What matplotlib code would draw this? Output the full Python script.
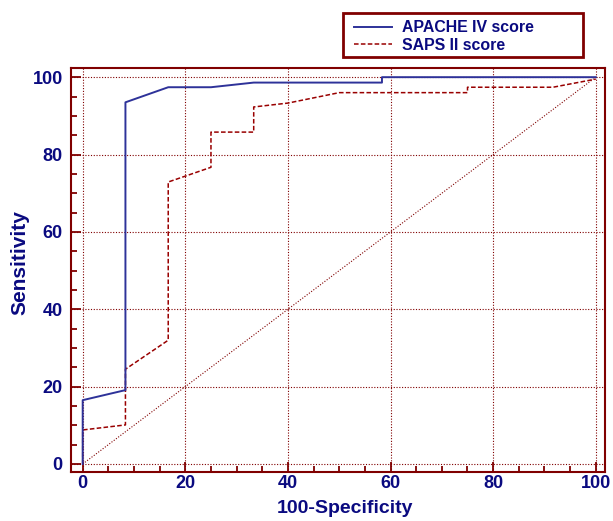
import matplotlib
matplotlib.use("Agg")
import matplotlib.pyplot as plt
from matplotlib.ticker import MultipleLocator
from matplotlib.patches import Rectangle

# ROC data (100-Specificity, Sensitivity)
apache_x = [0, 0, 8.33, 8.33, 16.67, 25, 33.33, 58.33, 58.33, 100]
apache_y = [0, 16.5, 19.1, 93.5, 97.4, 97.4, 98.6, 98.6, 100, 100]
saps_x = [0, 0, 8.33, 8.33, 16.67, 16.67, 25, 25, 33.33, 33.33, 40, 50, 75, 75, 91.67, 100]
saps_y = [0, 8.8, 10.1, 24.5, 32.0, 72.9, 76.7, 85.8, 85.8, 92.3, 93.3, 96.0, 96.0, 97.4, 97.4, 99.5]
series_labels = ["APACHE IV score", "SAPS II score"]
x_ticks = [0, 20, 40, 60, 80, 100]
y_ticks = [0, 20, 40, 60, 80, 100]
diag = [0, 100]

plt.rcParams['font.family'] = ['Liberation Sans', 'DejaVu Sans']
plt.rcParams['font.weight'] = 'bold'

RED = '#800000'
NAVY = '#0a0a80'
BLUE = '#2e3299'

W, H = 613, 521
fig = plt.figure(figsize=(W/100, H/100), dpi=100)
ax = fig.add_axes([71/W, 1-472/H, (605-71)/W, (472-67.5)/H])

ax.set_xlim(-2.28, 101.8)
ax.set_ylim(-2.07, 102.5)

# grid
for v in x_ticks:
    ax.axvline(v, color=RED, lw=0.8, ls=(0, (1, 1.5)), zorder=1)
for v in y_ticks:
    ax.axhline(v, color=RED, lw=0.8, ls=(0, (1, 1.5)), zorder=1)

ax.plot(diag, diag, color=RED, lw=0.8, ls=(0, (1, 1.5)), zorder=2)

l1, = ax.plot(apache_x, apache_y, color=BLUE, lw=1.4, zorder=4, label=series_labels[0])
l2, = ax.plot(saps_x, saps_y, color='#990000', lw=1.1, ls=(0, (3, 1.5)), zorder=3, label=series_labels[1])

for s in ax.spines.values():
    s.set_color(RED)
    s.set_linewidth(1.5)

ax.set_xticks(x_ticks)
ax.set_yticks(y_ticks)
ax.xaxis.set_minor_locator(MultipleLocator(5))
ax.yaxis.set_minor_locator(MultipleLocator(5))
ax.tick_params(which='both', direction='in', color=RED, width=1.3, top=False, right=False)
ax.tick_params(which='major', length=7)
ax.tick_params(which='minor', length=4.5)
ax.tick_params(axis='x', which='major', pad=2, labelsize=13, labelcolor=NAVY)
ax.tick_params(axis='y', which='major', pad=6, labelsize=13, labelcolor=NAVY)
for lab in ax.get_xticklabels() + ax.get_yticklabels():
    lab.set_fontweight('bold')

ax.set_xlabel("100-Specificity", fontsize=14, fontweight='bold', color=NAVY)
ax.set_ylabel("Sensitivity", fontsize=15, fontweight='bold', color=NAVY)
ax.xaxis.set_label_coords(0.5125, -0.068)
ax.yaxis.set_label_coords(-0.077, 0.519)

# legend box
fig.patches.append(Rectangle((343/W, 1-57/H), (583-343)/W, (57-13.3)/H,
                             transform=fig.transFigure, facecolor='white',
                             edgecolor=RED, linewidth=2, zorder=5))
leg = fig.legend(handles=[l1, l2], labels=series_labels,
                 loc='upper left',
                 bbox_to_anchor=(354/W, 1-20.5/H),
                 borderaxespad=0, borderpad=0,
                 prop={'weight': 'bold', 'size': 11.4},
                 handlelength=2.4, handletextpad=0.6, labelspacing=0.13,
                 frameon=False)
leg.set_zorder(6)
for t in leg.get_texts():
    t.set_color(NAVY)

fig.savefig("out.png", dpi=100)
